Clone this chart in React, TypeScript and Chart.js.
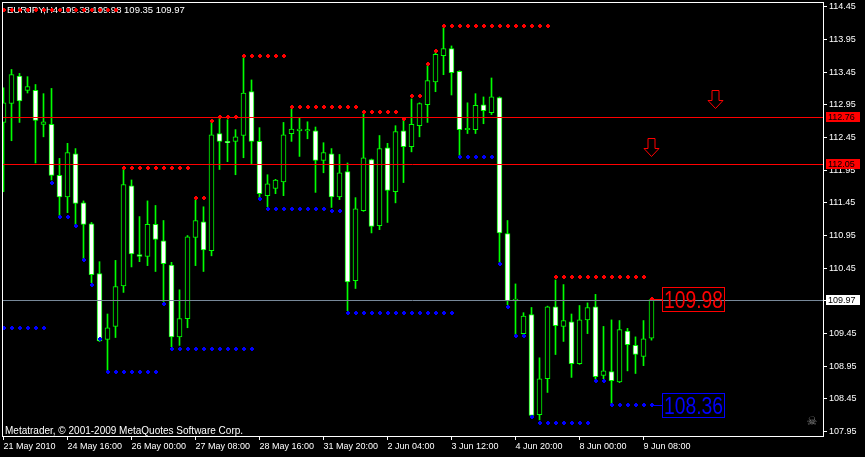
import React, { useEffect, useRef } from 'react';
import { Chart, registerables } from 'chart.js';

Chart.register(...registerables);

const W = 865;
const H = 457;

const symbolTitle = 'EURJPY,H4 109.38 109.98 109.35 109.97';
const copyrightText = 'Metatrader, \u00a9 2001-2009 MetaQuotes Software Corp.';

const opens = [
  112.68, 112.97, 113.39, 113.17, 113.17, 112.65, 112.65, 111.87, 111.54, 112.20,
  111.45, 111.13, 110.37, 109.36, 109.56, 110.18, 111.71, 110.66, 110.63, 111.12,
  110.87, 110.50, 109.40, 109.68, 110.92, 111.16, 110.72, 112.51, 112.39, 112.39,
  112.48, 113.15, 112.39, 111.56, 111.67, 111.77, 112.51, 112.55, 112.55, 112.55,
  112.10, 112.20, 111.54, 111.93, 110.26, 111.33, 112.11, 111.10, 112.29, 111.62,
  112.55, 112.31, 112.63, 112.95, 113.30, 113.70, 113.81, 113.46, 112.57, 112.57,
  112.95, 112.83, 113.06, 110.98, 109.95, 109.45, 109.74, 108.21, 108.76, 109.86,
  109.56, 109.63, 108.99, 109.66, 109.86, 108.81, 108.87, 108.71, 109.49, 109.27,
  109.10, 109.38,
];
const highs = [
  113.21, 113.49, 113.43, 113.38, 113.26, 113.12, 113.20, 112.13, 112.36, 112.28,
  111.48, 111.15, 110.55, 109.75, 110.57, 111.97, 111.80, 111.24, 111.48, 111.41,
  111.18, 110.54, 110.12, 110.95, 111.50, 111.39, 112.69, 112.75, 112.72, 112.57,
  113.67, 113.33, 112.60, 111.88, 111.81, 112.68, 112.89, 112.75, 112.69, 112.61,
  112.37, 112.28, 112.19, 112.06, 111.53, 112.81, 112.12, 112.48, 112.36, 112.63,
  112.72, 113.04, 112.98, 113.55, 113.75, 114.13, 113.85, 113.47, 112.98, 113.12,
  113.07, 113.36, 113.07, 111.18, 110.21, 109.77, 109.85, 109.08, 109.87, 110.27,
  110.20, 109.75, 109.88, 109.92, 110.05, 109.56, 109.66, 109.65, 109.53, 109.40,
  109.65, 109.98,
];
const lows = [
  111.62, 112.40, 112.68, 113.13, 112.06, 112.46, 111.80, 111.24, 111.30, 111.10,
  110.58, 110.23, 109.33, 108.88, 109.39, 110.08, 110.47, 110.55, 110.49, 110.40,
  109.94, 109.25, 109.27, 109.54, 110.49, 110.40, 110.64, 111.96, 112.08, 111.88,
  112.14, 112.05, 111.51, 111.39, 111.59, 111.56, 112.39, 112.16, 112.43, 111.61,
  111.91, 111.38, 111.50, 109.80, 110.14, 111.32, 110.99, 111.04, 111.15, 111.45,
  111.76, 112.23, 112.46, 112.68, 113.15, 113.41, 113.10, 112.16, 112.51, 112.51,
  112.66, 112.80, 110.54, 109.89, 109.43, 109.43, 108.19, 108.13, 108.55, 109.13,
  109.33, 108.78, 108.98, 109.45, 108.75, 108.76, 108.36, 108.70, 108.88, 108.84,
  108.96, 109.35,
];
const closes = [
  112.98, 113.41, 113.01, 113.23, 112.71, 112.69, 111.87, 111.54, 112.22, 111.44,
  111.12, 110.35, 109.34, 109.54, 110.17, 111.73, 110.67, 110.63, 111.12, 110.89,
  110.52, 109.40, 109.68, 110.93, 111.18, 110.73, 112.49, 112.39, 112.37, 112.46,
  113.13, 112.39, 111.59, 111.74, 111.80, 112.49, 112.58, 112.58, 112.57, 112.10,
  112.22, 111.54, 111.91, 110.24, 111.36, 112.14, 111.09, 112.28, 111.64, 112.54,
  112.31, 112.65, 112.97, 113.32, 113.72, 113.81, 113.44, 112.57, 112.59, 112.94,
  112.86, 113.07, 110.99, 109.95, 109.98, 109.72, 108.20, 108.76, 109.86, 109.57,
  109.65, 108.99, 109.66, 109.85, 108.79, 108.88, 108.73, 109.51, 109.28, 109.13,
  109.37, 109.97,
];

const resistanceDots = [
  114.40, 114.40, 114.40, 114.40, 114.40, 114.40, 114.40, 114.40, 114.40, 114.40,
  114.40, 114.40, 114.40, 114.40, 114.40, 111.99, 111.99, 111.99, 111.99, 111.99,
  111.99, 111.99, 111.99, 111.99, 111.53, 111.53, 112.70, 112.77, 112.77, 112.77,
  113.69, 113.69, 113.69, 113.69, 113.69, 113.69, 112.92, 112.92, 112.92, 112.92,
  112.92, 112.92, 112.92, 112.92, 112.92, 112.84, 112.84, 112.84, 112.84, 112.84,
  112.73, 113.08, 113.08, 113.58, 113.77, 114.16, 114.16, 114.16, 114.16, 114.16,
  114.16, 114.16, 114.16, 114.16, 114.16, 114.16, 114.16, 114.16, 114.16, 110.31,
  110.31, 110.31, 110.31, 110.31, 110.31, 110.31, 110.31, 110.31, 110.31, 110.31,
  110.31, 109.98,
];
const supportDots = [
  109.54, 109.54, 109.54, 109.54, 109.54, 109.54, 111.76, 111.24, 111.24, 111.10,
  110.57, 110.20, 109.36, 108.86, 108.86, 108.86, 108.86, 108.86, 108.86, 108.86,
  109.91, 109.22, 109.22, 109.22, 109.22, 109.22, 109.22, 109.22, 109.22, 109.22,
  109.22, 109.22, 111.51, 111.36, 111.36, 111.36, 111.36, 111.36, 111.36, 111.36,
  111.36, 111.33, 111.33, 109.77, 109.77, 109.77, 109.77, 109.77, 109.77, 109.77,
  109.77, 109.77, 109.77, 109.77, 109.77, 109.77, 109.77, 112.15, 112.15, 112.15,
  112.15, 112.15, 110.52, 109.85, 109.41, 109.41, 108.18, 108.09, 108.09, 108.09,
  108.09, 108.09, 108.09, 108.09, 108.72, 108.72, 108.36, 108.36, 108.36, 108.36,
  108.36, 108.36,
];

const xTickIndexes = [0, 8, 16, 24, 32, 40, 48, 56, 64, 72, 80];
const xTickLabels = [
  '21 May 2010', '24 May 16:00', '26 May 00:00', '27 May 08:00', '28 May 16:00',
  '31 May 20:00', '2 Jun 04:00', '3 Jun 12:00', '4 Jun 20:00', '8 Jun 00:00', '9 Jun 08:00',
];
const yTickValues = [
  107.95, 108.45, 108.95, 109.45, 109.95, 110.45, 110.95, 111.45, 111.95, 112.45,
  112.95, 113.45, 113.95, 114.45,
];

const levelLines = [112.76, 112.05];
const bidPrice = 109.97;
const arrowBars = [89, 81];
const arrowPrices = [112.9, 112.16];
const resistanceLabel = 109.98;
const supportLabel = 108.36;

const GREEN = '#00ff00';
const RED = '#ff0000';
const BLUE = '#0000ff';
const FONT = '"Liberation Sans", Arial, sans-serif';

function makeDot(color: string) {
  const c = document.createElement('canvas');
  c.width = 4;
  c.height = 4;
  const g = c.getContext('2d')!;
  g.fillStyle = color;
  g.fillRect(1, 0, 2, 4);
  g.fillRect(0, 1, 4, 2);
  return c;
}

const overlay = {
  id: 'mt4Overlay',
  beforeDatasetsDraw(chart: any) {
    const { ctx, chartArea: a } = chart;
    ctx.save();
    ctx.font = `9.5px ${FONT}`;
    ctx.fillStyle = '#ffffff';
    ctx.textBaseline = 'alphabetic';
    ctx.textAlign = 'left';
    ctx.fillText(symbolTitle, a.left + 5, 13);
    ctx.restore();
    ctx.imageSmoothingEnabled = false;
  },
  afterDatasetsDraw(chart: any) {
    const { ctx, chartArea: a } = chart;
    ctx.imageSmoothingEnabled = true;
    const xs = chart.scales.x;
    const ys = chart.scales.y;
    ctx.save();
    ctx.beginPath();
    ctx.rect(a.left, a.top, a.right - a.left, a.bottom - a.top);
    ctx.clip();
    ctx.lineWidth = 1;
    const hline = (v: number, color: string) => {
      const py = Math.round(ys.getPixelForValue(v)) + 0.5;
      ctx.strokeStyle = color;
      ctx.beginPath();
      ctx.moveTo(a.left, py);
      ctx.lineTo(a.right, py);
      ctx.stroke();
    };
    levelLines.forEach((v) => hline(v, RED));
    hline(bidPrice, '#778899');

    // down arrows
    arrowBars.forEach((b, i) => {
      const cx = xs.getPixelForValue(b);
      const tip = Math.round(ys.getPixelForValue(arrowPrices[i])) + 0.5;
      ctx.strokeStyle = RED;
      ctx.beginPath();
      ctx.moveTo(cx - 3.5, tip - 18);
      ctx.lineTo(cx + 3.5, tip - 18);
      ctx.lineTo(cx + 3.5, tip - 8);
      ctx.lineTo(cx + 7.5, tip - 8);
      ctx.lineTo(cx, tip);
      ctx.lineTo(cx - 7.5, tip - 8);
      ctx.lineTo(cx - 3.5, tip - 8);
      ctx.closePath();
      ctx.stroke();
    });

    // level labels near last bar
    const lastBar = closes.length - 1;
    const bx = xs.getPixelForValue(lastBar);
    const box = (v: number, color: string) => {
      const py = Math.round(ys.getPixelForValue(v));
      const left = Math.round(bx + 10.5) + 0.5;
      ctx.strokeStyle = color;
      ctx.beginPath();
      ctx.moveTo(bx + 2, py + 0.5);
      ctx.lineTo(left, py + 0.5);
      ctx.stroke();
      ctx.strokeRect(left, py - 12 + 0.5, 62, 24);
      const txt = v.toFixed(2);
      ctx.font = `24px ${FONT}`;
      const tw = ctx.measureText(txt).width;
      const sx = 59 / tw;
      ctx.save();
      ctx.translate(left + 1.5, py + 9);
      ctx.scale(sx, 1);
      ctx.fillStyle = color;
      ctx.textAlign = 'left';
      ctx.textBaseline = 'alphabetic';
      ctx.fillText(txt, 0, 0);
      ctx.restore();
    };
    box(resistanceLabel, RED);
    box(supportLabel, BLUE);
    ctx.restore();
  },
  afterDraw(chart: any) {
    const { ctx, chartArea: a } = chart;
    const ys = chart.scales.y;
    ctx.save();
    // right axis price tags
    const tag = (v: number, bg: string) => {
      const py = Math.round(ys.getPixelForValue(v));
      ctx.fillStyle = bg;
      ctx.fillRect(a.right + 3, py - 5, 34, 10);
      ctx.fillStyle = '#000000';
      ctx.font = `9px ${FONT}`;
      ctx.textAlign = 'left';
      ctx.textBaseline = 'middle';
      ctx.fillText(v.toFixed(2), a.right + 5, py + 0.5);
    };
    levelLines.forEach((v) => tag(v, RED));
    tag(bidPrice, '#ffffff');

    // copyright
    ctx.font = `10px ${FONT}`;
    ctx.fillStyle = '#ffffff';
    ctx.textAlign = 'left';
    ctx.textBaseline = 'alphabetic';
    ctx.fillText(copyrightText, a.left + 3, a.bottom - 2);

    // skull icon
    ctx.font = '12px "DejaVu Sans"';
    ctx.fillStyle = '#808080';
    ctx.textAlign = 'center';
    ctx.textBaseline = 'middle';
    ctx.fillText('\u2620', a.right - 11, a.bottom - 14);

    // frame
    ctx.strokeStyle = '#ffffff';
    ctx.lineWidth = 1;
    ctx.strokeRect(a.left + 0.5, a.top + 0.5, a.right - a.left, a.bottom - a.top);
    ctx.restore();
  },
};

export default function App() {
  const ref = useRef<HTMLCanvasElement>(null);
  useEffect(() => {
    const canvas = ref.current;
    if (!canvas) return;
    Chart.defaults.font.family = FONT;
    Chart.defaults.font.size = 9;
    Chart.defaults.color = '#ffffff';

    const redDot = makeDot(RED);
    const blueDot = makeDot(BLUE);
    const wickData = highs.map((h, i) => ({ x: i, y: [lows[i], h] }));
    const bodyData = opens.map((o, i) => ({ x: i, y: [o, closes[i]] }));
    const bodyColors = opens.map((o, i) => (closes[i] >= o ? '#000000' : '#ffffff'));

    const chart = new Chart(canvas, {
      type: 'bar',
      data: {
        datasets: [
          {
            type: 'line',
            data: resistanceDots.map((v, i) => ({ x: i, y: v })),
            showLine: false,
            pointStyle: redDot,
            pointRadius: 2,
            clip: false,
            order: 0,
          } as any,
          {
            type: 'line',
            data: supportDots.map((v, i) => ({ x: i, y: v })),
            showLine: false,
            pointStyle: blueDot,
            pointRadius: 2,
            clip: false,
            order: 0,
          } as any,
          {
            type: 'bar',
            data: bodyData,
            barThickness: 5,
            backgroundColor: bodyColors,
            borderColor: GREEN,
            borderWidth: 1,
            borderSkipped: false,
            grouped: false,
            order: 1,
          } as any,
          {
            type: 'bar',
            data: wickData,
            barThickness: 1,
            backgroundColor: GREEN,
            borderWidth: 0,
            grouped: false,
            order: 2,
          } as any,
        ],
      },
      options: {
        responsive: false,
        animation: false,
        devicePixelRatio: 1,
        events: [],
        layout: { autoPadding: false, padding: { left: 2, top: 2, right: 0, bottom: 0 } },
        plugins: { legend: { display: false }, tooltip: { enabled: false } },
        scales: {
          x: {
            type: 'linear',
            position: 'bottom',
            min: -0.1875,
            max: 102.4375,
            offset: false,
            grid: { display: true, drawOnChartArea: false, drawTicks: true, tickLength: 4, color: '#ffffff', offset: false },
            border: { display: false },
            ticks: {
              autoSkip: false,
              maxRotation: 0,
              minRotation: 0,
              align: 'start',
              padding: 1,
              color: '#ffffff',
              font: { size: 9, family: FONT },
              callback: (_v: any, idx: number) => xTickLabels[idx] ?? '',
            },
            afterBuildTicks: (scale: any) => {
              scale.ticks = xTickIndexes.map((v) => ({ value: v }));
            },
            afterFit: (scale: any) => {
              scale.height = 21;
              scale.paddingLeft = 0;
              scale.paddingRight = 0;
            },
          },
          y: {
            type: 'linear',
            position: 'right',
            min: 107.884,
            max: 114.522,
            grid: { display: true, drawOnChartArea: false, drawTicks: true, tickLength: 4, color: '#ffffff' },
            border: { display: false },
            ticks: {
              padding: 2,
              color: '#ffffff',
              font: { size: 9, family: FONT },
              callback: (v: any) => Number(v).toFixed(2),
            },
            afterBuildTicks: (scale: any) => {
              scale.ticks = yTickValues.map((v) => ({ value: v }));
            },
            afterFit: (scale: any) => {
              scale.width = 42;
              scale.paddingTop = 0;
              scale.paddingBottom = 0;
            },
          },
        },
      } as any,
      plugins: [overlay],
    });
    return () => chart.destroy();
  }, []);

  return (
    <div style={{ position: 'fixed', left: 0, top: 0, width: W, height: H, background: '#000000' }}>
      <canvas ref={ref} width={W} height={H} style={{ display: 'block', width: W, height: H }} />
    </div>
  );
}
